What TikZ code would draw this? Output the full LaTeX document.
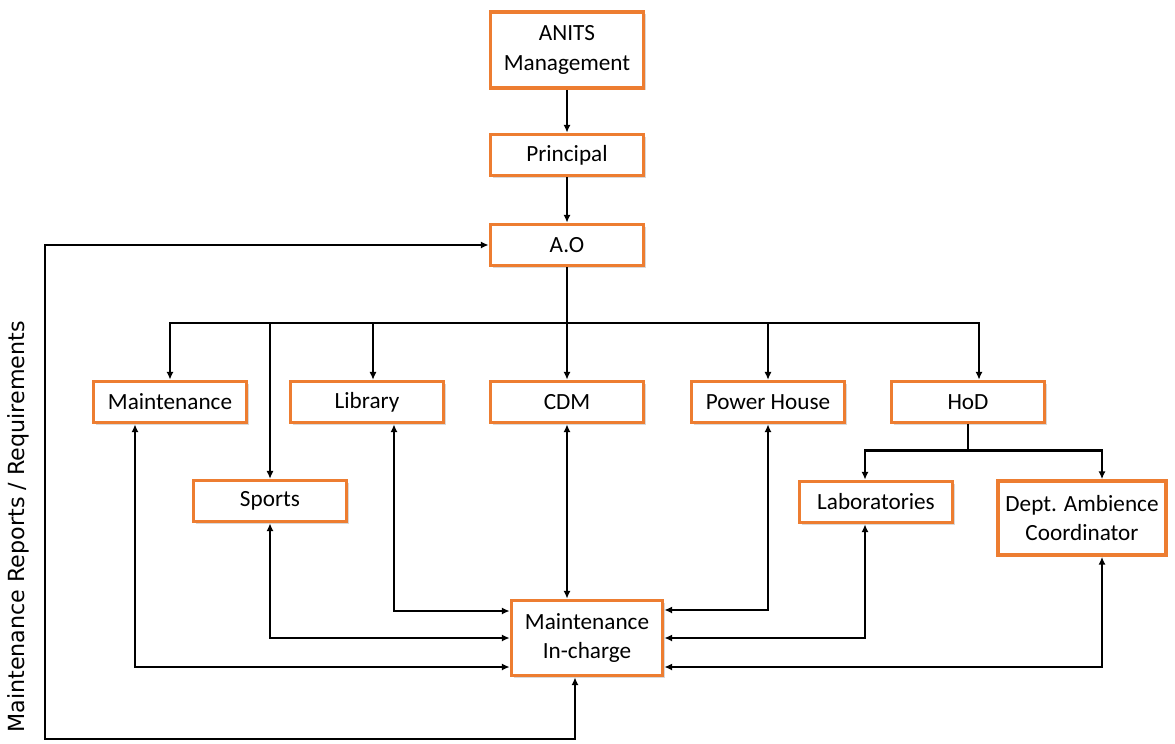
\documentclass[tikz,border=0pt]{standalone}
\usepackage{fontspec}
\setmainfont{Carlito}
\newfontfamily\sidefont{DejaVu Sans}
\usetikzlibrary{calc,arrows.meta,shadows}
\definecolor{boxorange}{HTML}{ED7D31}

\begin{document}
\begin{tikzpicture}[
        x=0.025cm,y=-0.025cm,
        BoxCfg/.style={
            draw=boxorange,
            line width=2.6pt,
            fill=white,
            minimum width=3.825cm,
            minimum height=1.025cm,
            inner sep=0pt,
            align=center,
            font=\fontsize{16.5}{21}\selectfont,
            drop shadow={shadow xshift=1.5pt,shadow yshift=-1.5pt,opacity=0.25,fill=black!60}
        },
        Tip/.tip={Latex[length=5.5pt,width=5pt]},
        Thick/.style={line width=1.9pt},
        Thin/.style={line width=0.8pt}
    ]
    \useasboundingbox (0,0) rectangle (1175,743);

    %top chain
    \node[BoxCfg,minimum height=1.9cm] (anits) at (567,50) {ANITS\\Management};
    \node[BoxCfg] (principal) at (567,155) {Principal};
    \node[BoxCfg] (ao) at (567,245) {A.O};

    %second row
    \node[BoxCfg] (maint) at (170,402) {Maintenance};
    \node[BoxCfg] (library) at (367,402) {Library};
    \node[BoxCfg] (cdm) at (567,402) {CDM};
    \node[BoxCfg] (power) at (768,402) {Power House};
    \node[BoxCfg] (hod) at (968,402) {HoD};

    %third row
    \node[BoxCfg] (sports) at (270,501) {Sports};
    \node[BoxCfg] (labs) at (876,502) {Laboratories};
    \node[BoxCfg,minimum width=4.2cm,minimum height=1.85cm] (dac) at (1082,518) {Dept. Ambience\\Coordinator};

    %maintenance in-charge
    \node[BoxCfg,minimum width=3.775cm,minimum height=1.875cm] (incharge) at (587,638) {Maintenance\\In-charge};

    %side label
    \node[rotate=90,font=\sidefont\fontsize{15.8}{18}\selectfont] (reports) at (18,527) {Maintenance Reports / Requirements};

    %helper points
    \coordinate (bus) at (567,323);
    \coordinate (libtop) at ($(library.north)+(6,0)$);
    \coordinate (loop) at (45,739);

    %connections
    \draw[Thick,-Tip] (anits) -- (principal);
    \draw[Thick,-Tip] (principal) -- (ao);
    \draw[Thick,-Tip] (ao) -- (cdm);
    \draw[Thick,Tip-Tip] (maint.north) |- (bus) -| ($(hod.north)+(11,0)$);
    \draw[Thin,-Tip] (sports.north |- bus) -- (sports.north);
    \draw[Thin,-Tip] (libtop |- bus) -- (libtop);
    \draw[Thin,-Tip] (power.north |- bus) -- (power.north);
    \draw[Thick] (hod.south) --++(0,26) coordinate (hodbus);
    \draw[Thick,Tip-Tip] ($(labs.north)+(-11,0)$) |- (hodbus) -| ($(dac.north)+(20,0)$);

    %reports to in-charge
    \draw[Thick,Tip-Tip] (cdm.south) -- (cdm.south |- incharge.north);
    \draw[Thick,Tip-Tip] ($(maint.south)+(-35,0)$) |- ($(incharge.west)+(0,29)$);
    \draw[Thick,Tip-Tip] ($(library.south)+(27,0)$) |- ($(incharge.west)+(0,-27)$);
    \draw[Thick,Tip-Tip] (sports.south) |- (incharge.west);
    \draw[Thick,Tip-Tip] (power.south) |- ($(incharge.east)+(0,-28)$);
    \draw[Thick,Tip-Tip] ($(labs.south)+(-11,0)$) |- (incharge.east);
    \draw[Thick,Tip-Tip] ($(dac.south)+(20,0)$) |- ($(incharge.east)+(0,29)$);

    %feedback loop
    \draw[Thick,Tip-Tip] ($(incharge.south)+(-12,0)$) |- (loop) |- (ao.west);

\end{tikzpicture}
\end{document}
